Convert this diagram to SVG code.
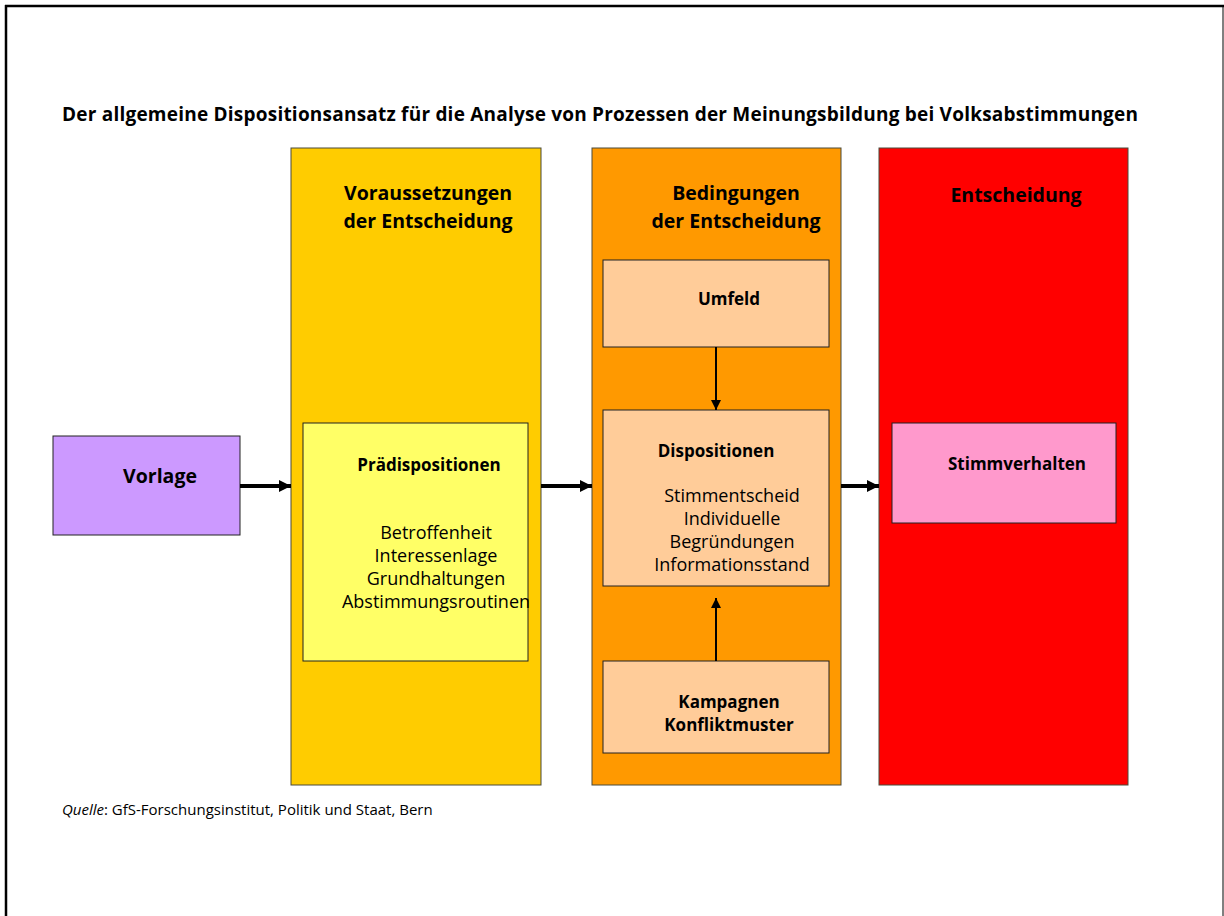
<svg xmlns="http://www.w3.org/2000/svg" width="1224" height="916" viewBox="0 0 1224 916">
<style>
text{font-family:"Open Sans","Noto Sans","Liberation Sans",sans-serif;fill:#000}
.b{font-weight:bold}
.h{font-size:19.5px;font-weight:bold}
.s{font-size:17px;font-weight:bold}
.r{font-size:18px}
.c{text-anchor:middle}
.col{stroke:#4a4a3a;stroke-width:1}
.box{stroke:#222;stroke-width:1}
.thick{stroke:#000;stroke-width:4;fill:none}
.thin{stroke:#000;stroke-width:2;fill:none}
</style>
<defs>
<marker id="ah" viewBox="0 0 10 10" refX="10" refY="5" markerWidth="3" markerHeight="3" orient="auto" markerUnits="strokeWidth"><path d="M0,0 L10,5 L0,10 z" fill="#000"/></marker>
<marker id="ah2" viewBox="0 0 10 10" refX="10" refY="5" markerWidth="5" markerHeight="5" orient="auto" markerUnits="strokeWidth"><path d="M0,0 L10,5 L0,10 z" fill="#000"/></marker>
</defs>
<rect width="1224" height="916" fill="#fff"/>
<g id="frame">
<line x1="5" y1="6" x2="1224" y2="6" stroke="#000" stroke-width="2.5"/>
<line x1="6" y1="5" x2="6" y2="916" stroke="#000" stroke-width="2.5"/>
<line x1="1223" y1="6" x2="1223" y2="916" stroke="#000" stroke-width="1"/>
</g>
<text id="title" class="b c" x="600" y="121" font-size="19" textLength="1076" lengthAdjust="spacing">Der allgemeine Dispositionsansatz für die Analyse von Prozessen der Meinungsbildung bei Volksabstimmungen</text>
<g id="col-voraussetzungen">
<rect class="col" x="291" y="148" width="250" height="637" fill="#FFCC00"/>
<text class="h c" x="428" y="200">Voraussetzungen</text>
<text class="h c" x="428" y="228">der Entscheidung</text>
</g>
<g id="col-bedingungen">
<rect class="col" x="592" y="148" width="249" height="637" fill="#FF9900"/>
<text class="h c" x="736" y="200">Bedingungen</text>
<text class="h c" x="736" y="228">der Entscheidung</text>
</g>
<g id="col-entscheidung">
<rect class="col" x="879" y="148" width="249" height="637" fill="#FF0000"/>
<text class="h c" x="1016" y="202">Entscheidung</text>
</g>
<g id="vorlage">
<rect class="box" x="53" y="436" width="187" height="99" fill="#CC99FF"/>
<text class="h c" x="160" y="483">Vorlage</text>
</g>
<g id="praedispositionen">
<rect class="box" x="303" y="423" width="225" height="238" fill="#FFFF66"/>
<text class="s c" x="429" y="471">Prädispositionen</text>
<text class="r c" x="436" y="539">Betroffenheit</text>
<text class="r c" x="436" y="562">Interessenlage</text>
<text class="r c" x="436" y="585">Grundhaltungen</text>
<text class="r c" x="436" y="608">Abstimmungsroutinen</text>
</g>
<g id="umfeld">
<rect class="box" x="603" y="260" width="226" height="87" fill="#FFCC99"/>
<text class="s c" x="729" y="305">Umfeld</text>
</g>
<g id="dispositionen">
<rect class="box" x="603" y="410" width="226" height="176" fill="#FFCC99"/>
<text class="s c" x="716" y="457">Dispositionen</text>
<text class="r c" x="732" y="502">Stimmentscheid</text>
<text class="r c" x="732" y="525">Individuelle</text>
<text class="r c" x="732" y="548">Begründungen</text>
<text class="r c" x="732" y="571">Informationsstand</text>
</g>
<g id="kampagnen">
<rect class="box" x="603" y="661" width="226" height="92" fill="#FFCC99"/>
<text class="s c" x="729" y="708">Kampagnen</text>
<text class="s c" x="729" y="731">Konfliktmuster</text>
</g>
<g id="stimmverhalten">
<rect class="box" x="892" y="423" width="224" height="100" fill="#FF99CC"/>
<text class="s c" x="1017" y="470">Stimmverhalten</text>
</g>
<g id="connectors">
<line class="thick" x1="240" y1="486" x2="291" y2="486" marker-end="url(#ah)"/>
<line class="thick" x1="541" y1="486" x2="592" y2="486" marker-end="url(#ah)"/>
<line class="thick" x1="841" y1="486" x2="879" y2="486" marker-end="url(#ah)"/>
<line class="thin" x1="716" y1="347" x2="716" y2="410" marker-end="url(#ah2)"/>
<line class="thin" x1="716" y1="661" x2="716" y2="598" marker-end="url(#ah2)"/>
</g>
<text id="quelle" x="62" y="815" font-size="15"><tspan font-style="italic">Quelle</tspan>: GfS-Forschungsinstitut, Politik und Staat, Bern</text>
</svg>
